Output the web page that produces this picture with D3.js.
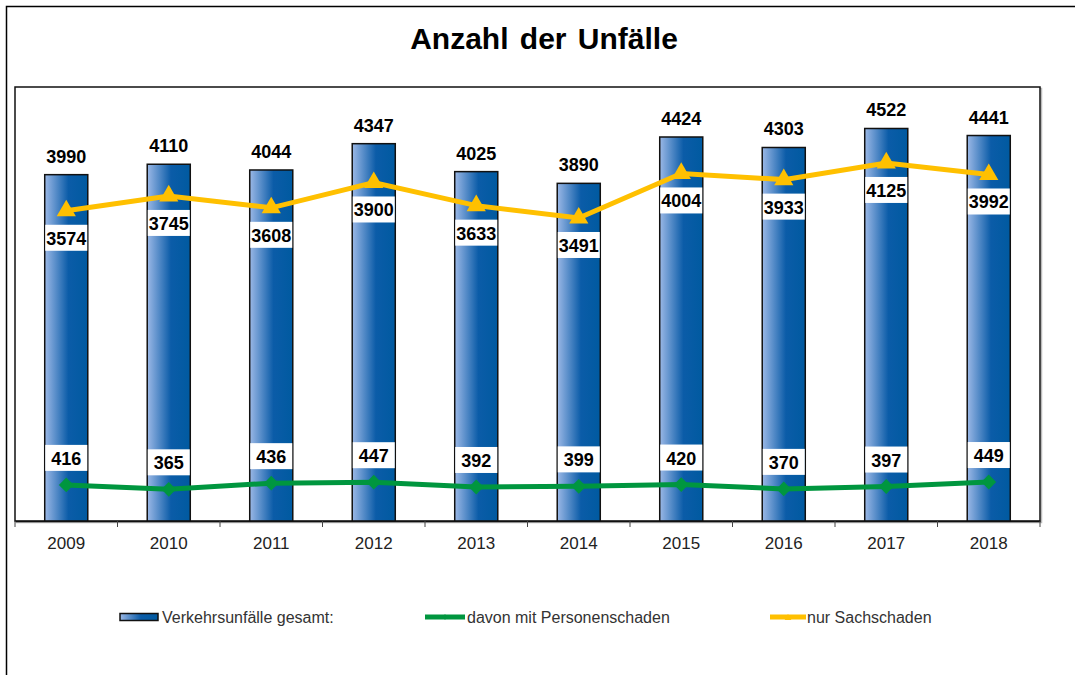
<!DOCTYPE html>
<html>
<head>
<meta charset="utf-8">
<title>Anzahl der Unfälle</title>
<script src="https://d3js.org/d3.v7.min.js"></script>
<style>
  body { margin: 0; background: #fff; }
  svg { display: block; font-family: "Liberation Sans", Arial, sans-serif; }
</style>
</head>
<body>
<div id="chart"></div>
<script>
// data
var years = ["2009", "2010", "2011", "2012", "2013", "2014", "2015", "2016", "2017", "2018"];
var gesamt = [3990, 4110, 4044, 4347, 4025, 3890, 4424, 4303, 4522, 4441];
var personen = [416, 365, 436, 447, 392, 399, 420, 370, 397, 449];
var sach = [3574, 3745, 3608, 3900, 3633, 3491, 4004, 3933, 4125, 3992];
var legendNames = ["Verkehrsunfälle gesamt:", "davon mit Personenschaden", "nur Sachschaden"];

var W = 1075, H = 675;
var plot = {left: 15, top: 87, right: 1040, bottom: 521};
var green = "#00963f", yellow = "#ffc000";

var svg = d3.select("#chart").append("svg")
    .attr("width", W)
    .attr("height", H);

var defs = svg.append("defs");
var grad = defs.append("linearGradient").attr("id", "barGrad")
    .attr("x1", "0%").attr("x2", "100%").attr("y1", "0%").attr("y2", "0%");
grad.append("stop").attr("offset", "0%").attr("stop-color", "#9bb8e6");
grad.append("stop").attr("offset", "55%").attr("stop-color", "#0b5ca8");
grad.append("stop").attr("offset", "100%").attr("stop-color", "#005aa0");

// outer frame (only left + top visible)
svg.append("path")
    .attr("d", "M6.5," + H + " V6.5 H" + W)
    .attr("fill", "none").attr("stroke", "#000").attr("stroke-width", 1.5);

// title
svg.append("text")
    .attr("x", 544).attr("y", 49)
    .attr("text-anchor", "middle")
    .style("font-size", "30px").style("font-weight", "bold")
    .style("word-spacing", "3px")
    .text("Anzahl der Unfälle");

var x = d3.scaleBand().domain(years).range([plot.left, plot.right]).paddingInner(0.58).paddingOuter(0.29);
var xb = d3.scaleBand().domain(years).range([plot.left, plot.right]);
var y = d3.scaleLinear().domain([0, 5000]).range([plot.bottom, plot.top]);

// plot area border with slight shadow
svg.append("rect")
    .attr("x", plot.left + 1.5).attr("y", plot.top + 1.5)
    .attr("width", plot.right - plot.left).attr("height", plot.bottom - plot.top)
    .attr("fill", "none").attr("stroke", "#bbb").attr("stroke-width", 1.5);
svg.append("rect")
    .attr("x", plot.left).attr("y", plot.top)
    .attr("width", plot.right - plot.left).attr("height", plot.bottom - plot.top)
    .attr("fill", "#fff").attr("stroke", "#111").attr("stroke-width", 1.5);

// bars
svg.selectAll("rect.bar")
    .data(gesamt)
    .enter().append("rect")
    .attr("class", "bar")
    .attr("x", function(d, i) { return x(years[i]); })
    .attr("y", function(d) { return y(d); })
    .attr("width", x.bandwidth())
    .attr("height", function(d) { return y(0) - y(d); })
    .attr("fill", "url(#barGrad)")
    .attr("stroke", "#111").attr("stroke-width", 1.5);

// x axis
var xAxis = d3.axisBottom(xb).tickSize(0).tickPadding(20);
var gx = svg.append("g").attr("transform", "translate(0," + plot.bottom + ")").call(xAxis);
gx.select(".domain").attr("stroke", "#111").attr("stroke-width", 1.5);
gx.selectAll("text").style("font-size", "17px").style("font-family", "Liberation Sans, Arial, sans-serif").attr("fill", "#222").attr("dy", "0");
gx.selectAll("text").attr("y", 28);
// category boundary ticks
var bounds = years.map(function(d) { return xb(d); }).concat([plot.right]);
gx.selectAll("line.bnd").data(bounds).enter().append("line")
    .attr("class", "bnd")
    .attr("x1", function(d) { return d; }).attr("x2", function(d) { return d; })
    .attr("y1", 0).attr("y2", 6)
    .attr("stroke", "#444").attr("stroke-width", 1);

var cx = function(i) { return x(years[i]) + x.bandwidth() / 2; };

// lines
var line = d3.line().x(function(d, i) { return cx(i); }).y(function(d) { return y(d); });

svg.append("path").datum(personen)
    .attr("d", line).attr("fill", "none")
    .attr("stroke", green).attr("stroke-width", 5);
svg.selectAll("path.dia").data(personen).enter().append("path")
    .attr("class", "dia")
    .attr("d", d3.symbol().type(d3.symbolSquare).size(110))
    .attr("transform", function(d, i) { return "translate(" + cx(i) + "," + y(d) + ") rotate(45)"; })
    .attr("fill", green);

svg.append("path").datum(sach)
    .attr("d", line).attr("fill", "none")
    .attr("stroke", yellow).attr("stroke-width", 5);
svg.selectAll("path.tri").data(sach).enter().append("path")
    .attr("class", "tri")
    .attr("d", d3.symbol().type(d3.symbolTriangle).size(160))
    .attr("transform", function(d, i) { return "translate(" + cx(i) + "," + y(d) + ")"; })
    .attr("fill", yellow);

// labels above the bars
svg.selectAll("text.tot").data(gesamt).enter().append("text")
    .attr("class", "tot")
    .attr("x", function(d, i) { return cx(i); })
    .attr("y", function(d) { return y(d) - 12; })
    .attr("text-anchor", "middle")
    .style("font-size", "18px").style("font-weight", "bold")
    .text(function(d) { return d; });

// boxed labels
function boxedLabels(vals, cls, offset) {
  var g = svg.selectAll("g." + cls).data(vals).enter().append("g")
      .attr("class", cls)
      .attr("transform", function(d, i) { return "translate(" + cx(i) + "," + (y(d) + offset) + ")"; });
  g.append("rect")
      .attr("x", -x.bandwidth() / 2 + 0.5).attr("y", -20)
      .attr("width", x.bandwidth() - 1).attr("height", 26)
      .attr("fill", "#fff");
  g.append("text")
      .attr("text-anchor", "middle")
      .style("font-size", "18px").style("font-weight", "bold")
      .text(function(d) { return d; });
}
boxedLabels(sach, "sl", 34);
boxedLabels(personen, "pl", -20);

// legend
var ly = 617;
svg.append("rect")
    .attr("x", 120).attr("y", ly - 3.5).attr("width", 38).attr("height", 7)
    .attr("fill", "url(#barGrad)").attr("stroke", "#111").attr("stroke-width", 1.5);
svg.append("line").attr("x1", 425).attr("x2", 465).attr("y1", ly).attr("y2", ly)
    .attr("stroke", green).attr("stroke-width", 5);
svg.append("path")
    .attr("d", d3.symbol().type(d3.symbolSquare).size(16))
    .attr("transform", "translate(445," + ly + ") rotate(45)")
    .attr("fill", green);
svg.append("line").attr("x1", 770).attr("x2", 806).attr("y1", ly).attr("y2", ly)
    .attr("stroke", yellow).attr("stroke-width", 5);
svg.append("path")
    .attr("d", d3.symbol().type(d3.symbolTriangle).size(20))
    .attr("transform", "translate(788," + (ly + 1) + ")")
    .attr("fill", yellow);
var legX = [162, 467, 807];
svg.selectAll("text.leg").data(legendNames).enter().append("text")
    .attr("class", "leg")
    .attr("x", function(d, i) { return legX[i]; })
    .attr("y", ly + 5.5)
    .style("font-size", "16px").attr("fill", "#333")
    .text(function(d) { return d; });
</script>
</body>
</html>
